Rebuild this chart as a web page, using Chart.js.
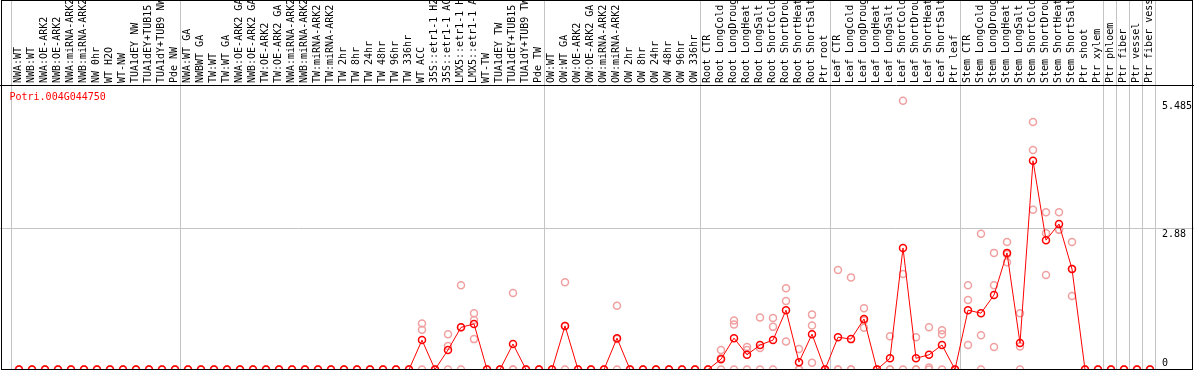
<!DOCTYPE html>
<html>
<head>
<meta charset="utf-8">
<script src="https://cdn.jsdelivr.net/npm/chart.js@4.4.0/dist/chart.umd.min.js"></script>
<style>
  html, body { margin: 0; padding: 0; background: #fff; }
  #wrap { width: 1194px; height: 370px; }
</style>
</head>
<body>
<div id="wrap"><canvas id="expr" width="1194" height="370"></canvas></div>
<script>
const geneName = 'Potri.004G044750';

const samples = [
  // NW
  'NWA:WT', 'NWB:WT', 'NWA:OE-ARK2', 'NWB:OE-ARK2', 'NWA:miRNA-ARK2', 'NWB:miRNA-ARK2', 'NW 0hr',
  'WT H2O', 'WT-NW', 'TUA1dEY NW', 'TUA1dEY+TUB15 NW', 'TUA1dY+TUB9 NW', 'Pde NW',
  // TW
  'NWA:WT GA', 'NWBWT GA', 'TW:WT', 'TW:WT GA', 'NWA:OE-ARK2 GA', 'NWB:OE-ARK2 GA', 'TW:OE-ARK2',
  'TW:OE-ARK2 GA', 'NWA:miRNA-ARK2 GA', 'NWB:miRNA-ARK2 GA', 'TW:miRNA-ARK2', 'TW:miRNA-ARK2 GA',
  'TW 2hr', 'TW 8hr', 'TW 24hr', 'TW 48hr', 'TW 96hr', 'TW 336hr', 'WT ACC', '35S::etr1-1 H2O',
  '35S::etr1-1 ACC', 'LMX5::etr1-1 H2O', 'LMX5::etr1-1 ACC', 'WT-TW', 'TUA1dEY TW', 'TUA1dEY+TUB15 TW',
  'TUA1dY+TUB9 TW', 'Pde TW',
  // OW
  'OW:WT', 'OW:WT GA', 'OW:OE-ARK2', 'OW:OE-ARK2 GA', 'OW:miRNA-ARK2', 'OW:miRNA-ARK2 GA',
  'OW 2hr', 'OW 8hr', 'OW 24hr', 'OW 48hr', 'OW 96hr', 'OW 336hr',
  // root
  'Root CTR', 'Root LongCold', 'Root LongDrought', 'Root LongHeat', 'Root LongSalt', 'Root ShortCold',
  'Root ShortDrought', 'Root ShortHeat', 'Root ShortSalt', 'Ptr root',
  // leaf
  'Leaf CTR', 'Leaf LongCold', 'Leaf LongDrought', 'Leaf LongHeat', 'Leaf LongSalt', 'Leaf ShortCold',
  'Leaf ShortDrought', 'Leaf ShortHeat', 'Leaf ShortSalt', 'Ptr leaf',
  // stem + tissues
  'Stem CTR', 'Stem LongCold', 'Stem LongDrought', 'Stem LongHeat', 'Stem LongSalt', 'Stem ShortCold',
  'Stem ShortDrought', 'Stem ShortHeat', 'Stem ShortSalt', 'Ptr shoot', 'Ptr xylem', 'Ptr phloem',
  'Ptr fiber', 'Ptr vessel', 'Ptr fiber vessel'
];

// mean expression per sample
const means = [
  0, 0, 0, 0, 0, 0, 0, 0, 0, 0, 0, 0, 0,
  0, 0, 0, 0, 0, 0, 0, 0, 0, 0, 0, 0, 0, 0, 0, 0, 0, 0, 0.60, 0, 0.40, 0.86, 0.93, 0, 0, 0.52, 0, 0,
  0, 0.89, 0, 0, 0, 0.64, 0, 0, 0, 0, 0, 0,
  0, 0.21, 0.64, 0.30, 0.50, 0.60, 1.21, 0.15, 0.72, 0,
  0.66, 0.62, 1.03, 0, 0.23, 2.48, 0.23, 0.30, 0.50, 0,
  1.21, 1.15, 1.52, 2.38, 0.54, 4.26, 2.64, 2.97, 2.05, 0, 0, 0, 0, 0, 0
];

// replicates
const rep1 = [
  0, 0, 0, 0, 0, 0, 0, 0, 0, 0, 0, 0, 0,
  0, 0, 0, 0, 0, 0, 0, 0, 0, 0, 0, 0, 0, 0, 0, 0, 0, 0, 0.94, 0, 0.72, 1.72, 1.15, 0, 0, 1.56, 0, 0,
  0, 1.78, 0, 0, 0, 1.30, 0, 0, 0, 0, 0, 0,
  0, 0.40, 1.00, 0.46, 1.06, 1.05, 1.66, 0.42, 1.12, 0,
  2.03, 1.88, 1.25, 0, 0.68, 5.485, 0.66, 0.86, 0.80, 0,
  1.72, 2.77, 2.38, 2.60, 1.15, 5.05, 3.21, 3.21, 2.60, 0, 0, 0, 0, 0, 0
];
const rep2 = [
  0, 0, 0, 0, 0, 0, 0, 0, 0, 0, 0, 0, 0,
  0, 0, 0, 0, 0, 0, 0, 0, 0, 0, 0, 0, 0, 0, 0, 0, 0, 0, 0.81, 0, 0.48, 0.86, 1.01, 0, 0, 0, 0, 0,
  0, 0.89, 0, 0, 0, 0.62, 0, 0, 0, 0, 0, 0,
  0, 0.23, 0.92, 0.40, 0.44, 0.87, 1.40, 0, 0.90, 0,
  0, 0, 1.00, 0, 0, 1.95, 0, 0.04, 0.72, 0,
  1.42, 0.70, 1.72, 2.35, 0.47, 4.48, 2.78, 2.85, 2.05, 0, 0, 0, 0, 0, 0
];
const rep3 = [
  0, 0, 0, 0, 0, 0, 0, 0, 0, 0, 0, 0, 0,
  0, 0, 0, 0, 0, 0, 0, 0, 0, 0, 0, 0, 0, 0, 0, 0, 0, 0, 0, 0, 0, 0, 0.62, 0, 0, 0, 0, 0,
  0, 0, 0, 0, 0, 0, 0, 0, 0, 0, 0, 0,
  0, 0, 0, 0, 0, 0, 0.57, 0, 0.14, 0,
  0, 0, 0.85, 0, 0, 0, 0, 0, 0, 0,
  0.50, 0, 0.46, 2.19, 0, 3.26, 1.93, 2.85, 1.50, 0, 0, 0, 0, 0, 0
];

// group separators sit just after these sample indexes
const groupEnds = [-1, 12, 40, 52, 62, 72, 83, 84, 85, 86, 87];
const yTicks = [0, 2.88, 5.485];

const FONT = { family: 'DejaVu Sans Mono', size: 10 };
const SEP = 0.41;
const X_MIN = -19 / 13;
const X_MAX = X_MIN + 1194 / 13;
const Y_MIN = -0.5 / 49;
const Y_MAX = (369.5 - 85) / 49;
const GRID = '#c4c4c4';
const NONE = 'rgba(0,0,0,0)';

const isSep = v => !Number.isInteger(v);

function points(arr) {
  return arr.map((v, i) => ({ x: i, y: v }));
}

function repSet(arr) {
  return {
    data: points(arr),
    showLine: false,
    pointRadius: 3.5,
    pointBorderWidth: 1.5,
    pointBorderColor: '#f0a0a0',
    pointBackgroundColor: NONE
  };
}

function noPad(s) {
  s.paddingLeft = 0;
  s.paddingRight = 0;
  s.paddingTop = 0;
  s.paddingBottom = 0;
}

const frame = {
  id: 'frame',
  afterDatasetsDraw(chart) {
    const ctx = chart.ctx;
    ctx.save();
    ctx.strokeStyle = '#000';
    ctx.lineWidth = 1;
    ctx.strokeRect(1.5, 0.5, 1191, 369);
    ctx.fillStyle = '#ff0000';
    ctx.font = '10px "DejaVu Sans Mono"';
    ctx.textBaseline = 'middle';
    ctx.fillText(geneName, 9.5, 97.5);
    ctx.restore();
  }
};

new Chart(document.getElementById('expr'), {
  type: 'line',
  data: {
    datasets: [
      {
        data: points(means),
        borderColor: '#ff0000',
        borderWidth: 1,
        pointRadius: 3.5,
        pointBorderWidth: 1.5,
        pointBorderColor: '#ff0000',
        pointBackgroundColor: NONE,
        tension: 0
      },
      repSet(rep1),
      repSet(rep2),
      repSet(rep3)
    ]
  },
  options: {
    responsive: false,
    animation: false,
    devicePixelRatio: 1,
    layout: { padding: 0, autoPadding: false },
    plugins: { legend: { display: false }, tooltip: { enabled: false } },
    scales: {
      x: { type: 'linear', display: false, min: X_MIN, max: X_MAX },
      xTop: {
        type: 'linear',
        position: 'top',
        min: X_MIN,
        max: X_MAX,
        afterBuildTicks: s => {
          const t = samples.map((_, i) => ({ value: i }))
            .concat(groupEnds.map(g => ({ value: g + SEP })));
          t.sort((a, b) => a.value - b.value);
          s.ticks = t;
        },
        afterFit: s => { s.height = 85; noPad(s); },
        ticks: {
          autoSkip: false,
          minRotation: 90,
          maxRotation: 90,
          padding: -83,
          labelOffset: 11,
          font: FONT,
          color: '#000',
          callback: v => isSep(v) ? '' : samples[v]
        },
        grid: {
          color: c => c.tick && isSep(c.tick.value) ? GRID : NONE,
          tickColor: c => c.tick && isSep(c.tick.value) ? GRID : NONE,
          tickLength: 85
        },
        border: { display: true, color: '#000' }
      },
      y: {
        type: 'linear',
        position: 'right',
        min: Y_MIN,
        max: Y_MAX,
        afterBuildTicks: s => { s.ticks = yTicks.map(v => ({ value: v })); },
        afterFit: s => { s.width = 0; noPad(s); },
        ticks: {
          mirror: true,
          crossAlign: 'far',
          padding: -2,
          font: FONT,
          color: '#000',
          callback: v => v === 0 ? ['0', ''] : ['', String(v)]
        },
        grid: {
          color: c => c.tick && c.tick.value === 2.88 ? GRID : NONE,
          drawTicks: false
        },
        border: { display: false }
      }
    }
  },
  plugins: [frame]
});
</script>
</body>
</html>
